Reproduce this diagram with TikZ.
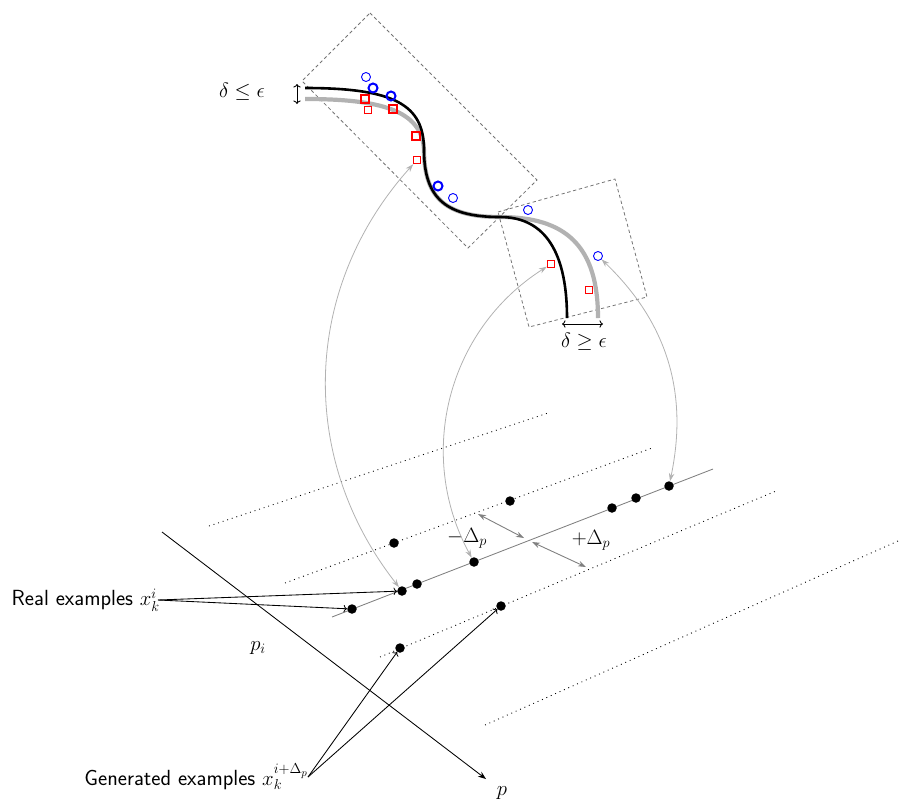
\documentclass[tikz,border=0pt]{standalone}
\usetikzlibrary{arrows.meta}
\begin{document}
\begin{tikzpicture}[x=1pt,y=-1pt,
  thinline/.style={line width=0.85pt},
  dot/.style={circle,fill=black,inner sep=0pt,minimum size=9.5pt},
  bcirc/.style={circle,draw=blue,inner sep=0pt,minimum size=9pt,line width=0.9pt},
  bcircthick/.style={bcirc,line width=2pt},
  rsq/.style={rectangle,draw=red,inner sep=0pt,minimum size=7.5pt,line width=0.9pt},
  rsqthick/.style={rsq,line width=2pt},
  dotline/.style={line width=0.9pt,dash pattern=on 0.9pt off 3.9pt},
  box/.style={draw=black!55,line width=0.8pt,dash pattern=on 3.3pt off 2.7pt},
  link/.style={draw=black!30,line width=0.8pt,{Stealth[length=8pt,width=5.5pt]}-{Stealth[length=8pt,width=5.5pt]}},
  deltaarrow/.style={draw=black!50,line width=0.9pt,{Stealth[length=8pt,width=5.5pt]}-{Stealth[length=8pt,width=5.5pt]}},
  lbl/.style={font=\huge},
  slbl/.style={font=\fontsize{21.9}{26}\selectfont\sffamily,inner sep=0pt}
]
\useasboundingbox (0,0) rectangle (901,801);

% dashed boxes
\draw[box] (370,13) -- (537,180) -- (468,248) -- (302,81) -- cycle;
\draw[box] (498,212) -- (615,179) -- (647,297) -- (529,327) -- cycle;

% curves
\draw[black!30,line width=4.2pt] (305,99) .. controls (380,99) and (422,110) .. (424,150)
  .. controls (424,200) and (448,217) .. (500,217)
  .. controls (565,217) and (598,245) .. (598,318);
\draw[black,line width=2.6pt] (305,88) .. controls (395,88) and (424,105) .. (424,150)
  .. controls (424,200) and (448,217) .. (500,217)
  .. controls (540,217) and (567,245) .. (567,318);

% markers
\node[bcirc] (c1) at (366,77) {};
\node[bcircthick] (c2) at (373,88) {};
\node[bcircthick] (c3) at (391,96) {};
\node[bcircthick] (c4) at (438,186) {};
\node[bcirc] (c5) at (453,198) {};
\node[bcirc] (c6) at (528,210) {};
\node[bcirc] (c7) at (598,256) {};
\node[rsqthick] (s1) at (365,99) {};
\node[rsq] (s2) at (368,110) {};
\node[rsqthick] (s3) at (393,109) {};
\node[rsqthick] (s4) at (416,136) {};
\node[rsq] (s5) at (417,160) {};
\node[rsq] (s6) at (551,264) {};
\node[rsq] (s7) at (589,290) {};

% delta epsilon marks
\coordinate (va) at (297,84);
\coordinate (vb) at (297,104);
\draw[thinline,<->] (va) -- (vb);
\node[lbl] (le) at (242,92) {$\delta\leq\epsilon$};
\coordinate (ha) at (562,324);
\coordinate (hb) at (603,324);
\draw[thinline,<->] (ha) -- (hb);
\node[lbl] (ge) at (584,342) {$\delta\geq\epsilon$};

% plane lines
\draw[dotline] (209,526) -- (548,413);
\draw[dotline] (285,583) -- (652,448);
\draw[black!50,thinline] (332,617) -- (713,469);
\draw[dotline] (380,657) -- (776,491);
\draw[dotline] (485,725) -- (898,541);

% axis
\coordinate (ax0) at (162,532);
\coordinate (ax1) at (486,779);
\draw[thinline,-{Stealth[length=8pt,width=6pt]}] (ax0) -- (ax1);
\node[lbl] (pl) at (502,793) {$p$};
\node[lbl] (pil) at (258,648) {$p_i$};

% dots
\node[dot] (d1) at (352,609) {};
\node[dot] (d2) at (402,591) {};
\node[dot] (d3) at (417,584) {};
\node[dot] (d4) at (474,562) {};
\node[dot] (d5) at (612,508) {};
\node[dot] (d6) at (636,498) {};
\node[dot] (d7) at (669,486) {};
\node[dot] (e1) at (394,543) {};
\node[dot] (e2) at (510,501) {};
\node[dot] (g1) at (400,648) {};
\node[dot] (g2) at (501,606) {};

% delta p arrows
\coordinate (m1) at (478,514);
\coordinate (m2) at (524,538);
\draw[deltaarrow] (m1) -- (m2);
\coordinate (q1) at (532,542);
\coordinate (q2) at (586,567);
\draw[deltaarrow] (q1) -- (q2);
\node[lbl] (mdl) at (467,538) {$-\Delta_p$};
\node[lbl] (pdl) at (591,540) {$+\Delta_p$};

% curved links
\draw[link] (s5) to[bend right=40] (d2);
\draw[link] (s6) to[bend right=43] (d4);
\draw[link] (c7) to[bend left=29] (d7);

% labels and arrows
\node[slbl,anchor=east] (real) at (160,600) {Real examples $x_k^i$};
\draw[thinline,->] ([xshift=-2pt]real.east) -- (d2);
\draw[thinline,->] ([xshift=-2pt]real.east) -- (d1);
\node[slbl,anchor=east] (gen) at (308,777) {Generated examples $x_k^{i+\Delta_p}$};
\draw[thinline,->] (gen.east) -- (g1);
\draw[thinline,->] (gen.east) -- (g2);
\end{tikzpicture}
\end{document}
